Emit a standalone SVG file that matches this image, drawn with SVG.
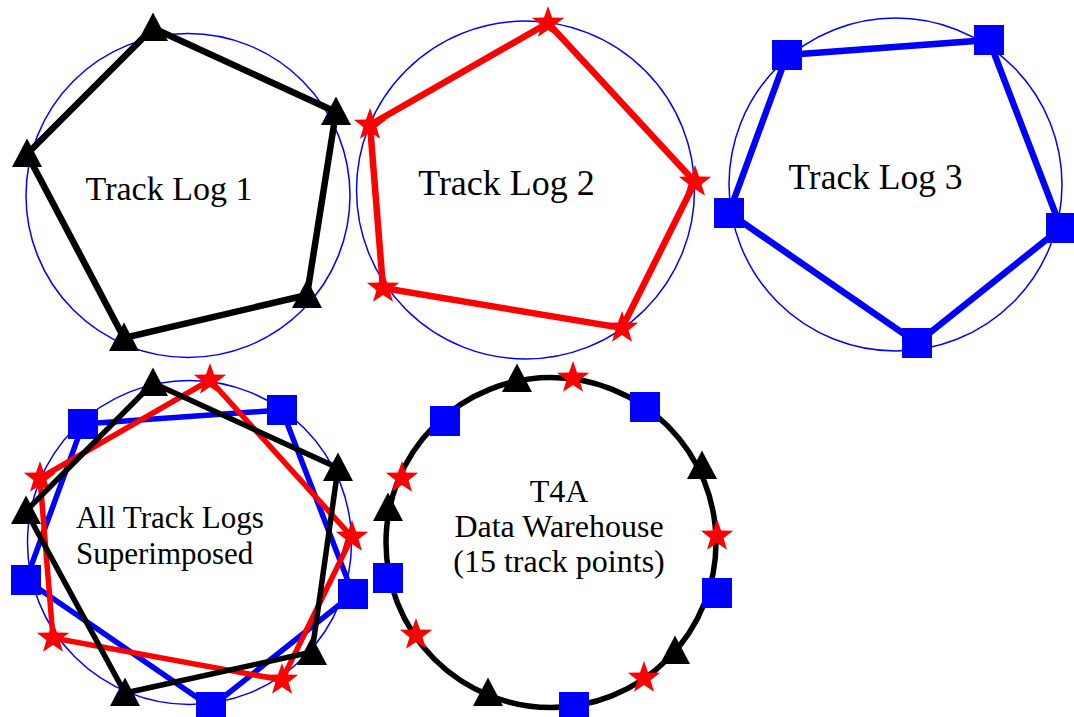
<svg xmlns="http://www.w3.org/2000/svg" xmlns:xlink="http://www.w3.org/1999/xlink" width="1074" height="717" viewBox="0 0 1074 717">
<style>
.ring{fill:none;stroke:#0000ff;stroke-width:1.5}
.ringk{fill:none;stroke:#000;stroke-width:5.5}
.lk{fill:none;stroke:#000;stroke-width:6.5;stroke-linejoin:miter}
.lr{fill:none;stroke:#ff0000;stroke-width:6.5}
.lb{fill:none;stroke:#0000ff;stroke-width:6.5}
.thin{stroke-width:5.5}
.lbl{font-family:"Liberation Serif","Times New Roman",serif;fill:#000}
</style>
<defs>
<path id="tri" d="M0,-15.5 L15,13 L-15,13 Z" fill="#000"/>
<path id="star" d="M0,-17 L4.06,-5.59 L16.17,-5.25 L6.57,2.14 L9.99,13.75 L0,6.9 L-9.99,13.75 L-6.57,2.14 L-16.17,-5.25 L-4.06,-5.59 Z" fill="#ff0000"/>
<rect id="sq" x="-15" y="-15" width="30" height="30" fill="#0000ff"/>
</defs>
<rect width="1074" height="717" fill="#fff"/>

<g id="track-log-1">
<circle class="ring" cx="188" cy="195.5" r="162"/>
<g id="connectors-1"><polygon class="lk" points="153,28 336,112 307,295 124,338 27,154"/></g>
<use href="#tri" x="153" y="28"/><use href="#tri" x="336" y="112"/><use href="#tri" x="307" y="295"/><use href="#tri" x="124" y="338"/><use href="#tri" x="27" y="154"/>
<text class="lbl" x="169" y="200" font-size="34" text-anchor="middle">Track Log 1</text>
</g>

<g id="track-log-2">
<circle class="ring" cx="525.5" cy="190" r="169"/>
<g id="connectors-2"><polygon class="lr" points="548,23 695,182 622,328 383,288 370,125"/></g>
<use href="#star" x="548" y="23"/><use href="#star" x="695" y="182"/><use href="#star" x="622" y="328"/><use href="#star" x="383" y="288"/><use href="#star" x="370" y="125"/>
<text class="lbl" x="506.5" y="195" font-size="36" text-anchor="middle">Track Log 2</text>
</g>

<g id="track-log-3">
<circle class="ring" cx="895.5" cy="184.5" r="166.5"/>
<g id="connectors-3"><polygon class="lb" points="787,55 989,40 1061,228 917,343 729,213"/></g>
<use href="#sq" x="787" y="55"/><use href="#sq" x="989" y="40"/><use href="#sq" x="1061" y="228"/><use href="#sq" x="917" y="343"/><use href="#sq" x="729" y="213"/>
<text class="lbl" x="875.5" y="189" font-size="35.5" text-anchor="middle">Track Log 3</text>
</g>

<g id="superimposed">
<circle class="ring" cx="189.5" cy="542.5" r="162"/>
<g id="connectors-4">
<polygon class="lb thin" points="83,424 282,410 353,594 211,707 26,580"/>
<polygon class="lr thin" points="210,380 352,537 282,680 53,638 40,478"/>
</g>
<use href="#sq" x="83" y="424"/><use href="#sq" x="282" y="410"/><use href="#sq" x="353" y="594"/><use href="#sq" x="211" y="707"/><use href="#sq" x="26" y="580"/>
<use href="#star" x="210" y="380"/><use href="#star" x="352" y="537"/><use href="#star" x="282" y="680"/><use href="#star" x="53" y="638"/><use href="#star" x="40" y="478"/>
<g id="connectors-4k"><polygon class="lk thin" points="153,383 338,468 312,652 125,693 26,511"/></g>
<use href="#tri" x="153" y="383"/><use href="#tri" x="338" y="468"/><use href="#tri" x="312" y="652"/><use href="#tri" x="125" y="693"/><use href="#tri" x="26" y="511"/>
<text class="lbl" x="76" y="528" font-size="31">All Track Logs</text>
<text class="lbl" x="76" y="564" font-size="31">Superimposed</text>
</g>

<g id="t4a-warehouse">
<circle class="ringk" cx="551" cy="542.5" r="165"/>
<use href="#tri" x="517" y="379"/><use href="#tri" x="702" y="466"/><use href="#tri" x="388" y="508"/><use href="#tri" x="675" y="651"/><use href="#tri" x="488" y="693"/>
<use href="#star" x="573" y="378"/><use href="#star" x="402" y="478"/><use href="#star" x="717" y="536"/><use href="#star" x="416" y="635"/><use href="#star" x="644" y="678"/>
<use href="#sq" x="445" y="421"/><use href="#sq" x="645" y="407"/><use href="#sq" x="388" y="578"/><use href="#sq" x="717" y="593"/><use href="#sq" x="574" y="707"/>
<text class="lbl" x="559" y="502" font-size="32" text-anchor="middle">T4A</text>
<text class="lbl" x="559" y="537" font-size="32" text-anchor="middle">Data Warehouse</text>
<text class="lbl" x="559" y="572" font-size="32" text-anchor="middle">(15 track points)</text>
</g>
</svg>
